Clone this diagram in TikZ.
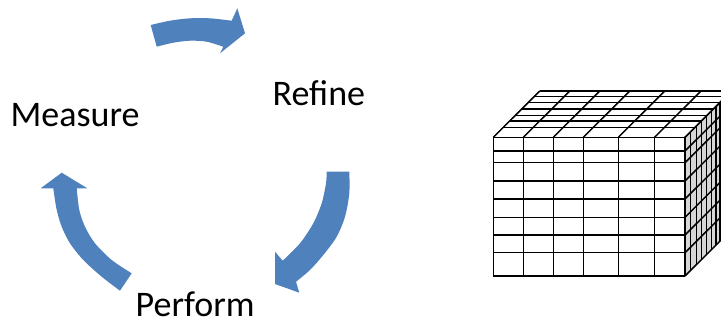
\documentclass[tikz,border=0pt]{standalone}
\usepackage{fontspec}
\setmainfont{Carlito}
\definecolor{arrowblue}{HTML}{4F81BD}
\definecolor{sidegray}{HTML}{D6D6D6}
\tikzset{
  cyclearrow/.style={fill=arrowblue},
  cyclelabel/.style={anchor=base west, inner sep=0pt, font=\fontsize{36}{40}\selectfont},
  gridline/.style={line width=1.5pt, black, line join=miter}
}
\begin{document}
\begin{tikzpicture}[x=1pt,y=-1pt]
\useasboundingbox (0,0) rectangle (721,322);
\clip (0,0) rectangle (721,322);

% labels
\node[cyclelabel] (measure) at (10.5,126.7) {Measure};
\node[cyclelabel] (refine) at (272.5,105) {Refine};
\node[cyclelabel] (perform) at (135.5,316.7) {Perform};

% top arrow (Measure -> Refine)
\fill[cyclearrow] (150.7,25) -- plot[smooth] coordinates {(150.7,25) (170,20.7) (190,18.3) (210,18.3) (231.7,20.7)}
  -- (237.3,8.3) -- (245,33.3) -- (220,53.3) -- (223.3,46.7)
  -- plot[smooth] coordinates {(223.3,46.7) (206.7,41.7) (190,40.7) (173.3,42.7) (156.7,46.7)} -- cycle;

% right arrow (Refine -> Perform)
\fill[cyclearrow] (326.7,171.7) -- (349.3,171.7)
  -- plot[smooth] coordinates {(349.3,171.7) (349.3,193.3) (345,216.7) (336.7,236.7) (323.3,255) (310,270) (296,281.7)}
  -- (299.3,292.7) -- (275,284) -- (275,251.7) -- (282.7,260.7)
  -- plot[smooth] coordinates {(282.7,260.7) (300,243.3) (313.3,223.3) (321.7,203.3) (326,183.3) (326.7,171.7)} -- cycle;

% left arrow (Perform -> Measure)
\fill[cyclearrow] (131.7,273.3) -- (120,290.7)
  -- plot[smooth] coordinates {(120,290.7) (101.7,276.7) (83.3,260) (70,243.3) (61.7,226.7) (56.7,210) (54,193.3) (53.3,188.3)}
  -- (40.7,188.3) -- (61.7,172.7) -- (87.3,188.3) -- (76.7,188.3)
  -- plot[smooth] coordinates {(76.7,188.3) (79.3,210) (85,226.7) (95,243.3) (111.7,260) (131.7,273.3)} -- cycle;

% cube
\def\dx{46.5}
\def\dy{-46.3}
% right face
\fill[sidegray] (685,137.3) -- ++(\dx,\dy) -- ++(0,138.7) -- (685,276) -- cycle;
% front face
\fill[white] (493.3,137.3) rectangle (685,276);
\fill[white] (493.3,137.3) -- ++(\dx,\dy) -- ++(191.7,0) -- (685,137.3) -- cycle;
% front grid
\foreach \x in {493.3,523.3,553.3,583.3,618.3,654.5,685}
  \draw[gridline] (\x,137.3) -- (\x,276);
\foreach \y in {137.3,151,162.7,181,199,217.3,235,252.7,276}
  \draw[gridline] (493.3,\y) -- (685,\y);
% top face
\foreach \x in {493.3,523.3,553.3,583.3,618.3,654.5,685}
  \draw[gridline] (\x,137.3) -- ++(\dx,\dy);
\foreach \f in {0.207,0.352,0.467,0.611,0.756,0.877,1}
  \draw[gridline] (493.3+\dx*\f,137.3+\dy*\f) -- ++(191.7,0);
% right face
\foreach \y in {137.3,151,162.7,181,199,217.3,235,252.7,276}
  \draw[gridline] (685,\y) -- ++(\dx,\dy);
\foreach \d in {5.7,11.7,16.7,21.7,26.7,31,35,40.5}
  \draw[gridline] (685+\d,137.3-\d*0.9957) -- ++(0,138.7);
\end{tikzpicture}
\end{document}
